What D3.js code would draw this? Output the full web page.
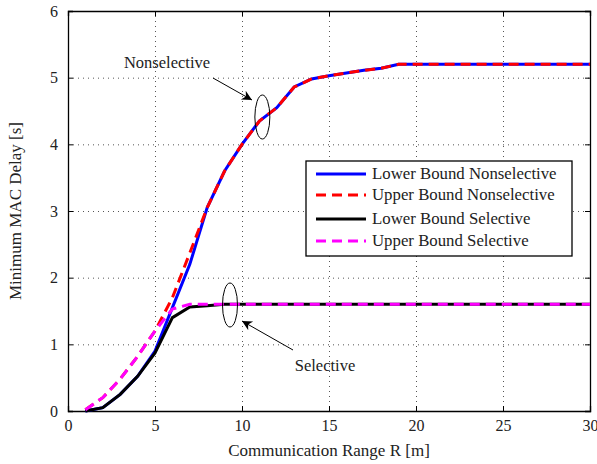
<!DOCTYPE html>
<html lang="en">
<head>
<meta charset="UTF-8">
<title>Minimum MAC Delay</title>
<script src="https://d3js.org/d3.v7.min.js"></script>
<style>
  body { margin: 0; background: #fff; }
  text { font-family: "Liberation Serif", "DejaVu Serif", serif; fill: #222; }
</style>
</head>
<body>
<svg width="597" height="464"></svg>
<script>
// data
const range = [1, 2, 3, 4, 5, 6, 7, 8, 9, 10, 11, 12, 13, 14, 15, 16, 17, 18, 19, 20, 21, 22, 23, 24, 25, 26, 27, 28, 29, 30];
const lowerNonsel = [0, 0.05, 0.25, 0.52, 0.9, 1.55, 2.2, 3.05, 3.6, 4.0, 4.35, 4.55, 4.86, 4.98, 5.03, 5.07, 5.11, 5.14, 5.2, 5.2, 5.2, 5.2, 5.2, 5.2, 5.2, 5.2, 5.2, 5.2, 5.2, 5.2];
const upperNonsel = [0.02, 0.2, 0.48, 0.82, 1.2, 1.7, 2.37, 3.05, 3.6, 4.0, 4.35, 4.55, 4.86, 4.98, 5.03, 5.07, 5.11, 5.14, 5.2, 5.2, 5.2, 5.2, 5.2, 5.2, 5.2, 5.2, 5.2, 5.2, 5.2, 5.2];
const lowerSel = [0, 0.05, 0.25, 0.52, 0.87, 1.4, 1.56, 1.58, 1.6, 1.6, 1.6, 1.6, 1.6, 1.6, 1.6, 1.6, 1.6, 1.6, 1.6, 1.6, 1.6, 1.6, 1.6, 1.6, 1.6, 1.6, 1.6, 1.6, 1.6, 1.6];
const upperSel = [0.02, 0.2, 0.48, 0.82, 1.2, 1.53, 1.6, 1.6, 1.6, 1.6, 1.6, 1.6, 1.6, 1.6, 1.6, 1.6, 1.6, 1.6, 1.6, 1.6, 1.6, 1.6, 1.6, 1.6, 1.6, 1.6, 1.6, 1.6, 1.6, 1.6];
const xTicks = [0, 5, 10, 15, 20, 25, 30];
const yTicks = [0, 1, 2, 3, 4, 5, 6];
const seriesNames = ["Lower Bound Nonselective", "Upper Bound Nonselective", "Lower Bound Selective", "Upper Bound Selective"];

const series = [
  { name: seriesNames[0], values: lowerNonsel, color: "#0000ff", dash: null },
  { name: seriesNames[1], values: upperNonsel, color: "#ff0000", dash: "10,6" },
  { name: seriesNames[2], values: lowerSel, color: "#000000", dash: null },
  { name: seriesNames[3], values: upperSel, color: "#ff00ff", dash: "10,6" }
];

const pLeft = 68, pRight = 590, pTop = 11, pBottom = 411;
const svg = d3.select("svg");

const x = d3.scaleLinear().domain([0, 30]).range([pLeft, pRight]);
const y = d3.scaleLinear().domain([0, 6]).range([pBottom, pTop]);

// grid
const grid = svg.append("g").attr("stroke", "#555").attr("stroke-width", 1).attr("stroke-dasharray", "1,4");
grid.selectAll(".gx").data(xTicks.slice(1, -1)).enter().append("line")
  .attr("x1", d => x(d) + 0.5).attr("x2", d => x(d) + 0.5).attr("y1", pTop).attr("y2", pBottom);
grid.selectAll(".gy").data(yTicks.slice(1, -1)).enter().append("line")
  .attr("y1", d => y(d) + 0.5).attr("y2", d => y(d) + 0.5).attr("x1", pLeft).attr("x2", pRight);

// axes
svg.append("g").attr("transform", `translate(0,${pBottom})`)
  .call(d3.axisBottom(x).tickValues(xTicks).tickFormat(d3.format("d")).tickSize(-5).tickPadding(9));
svg.append("g").attr("transform", `translate(${pLeft},0)`)
  .call(d3.axisLeft(y).tickValues(yTicks).tickFormat(d3.format("d")).tickSize(-5).tickPadding(10));
svg.append("g").attr("transform", `translate(0,${pTop})`)
  .call(d3.axisTop(x).tickValues(xTicks).tickSize(-5).tickFormat(""));
svg.append("g").attr("transform", `translate(${pRight},0)`)
  .call(d3.axisRight(y).tickValues(yTicks).tickSize(-5).tickFormat(""));
svg.selectAll(".domain").attr("stroke", "#000").attr("stroke-width", 1.3);
svg.selectAll(".tick line").attr("stroke", "#000");
svg.selectAll(".tick text").style("font-family", "Liberation Serif, serif").style("font-size", "16px").attr("fill", "#222");

// lines
const line = d3.line().x((d, i) => x(range[i])).y(d => y(d));
series.forEach(s => {
  svg.append("path").datum(s.values)
    .attr("d", line)
    .attr("fill", "none")
    .attr("stroke", s.color)
    .attr("stroke-width", 3)
    .attr("stroke-dasharray", s.dash);
});

// annotations
svg.append("defs").append("marker")
  .attr("id", "arr").attr("viewBox", "0 0 10 10").attr("refX", 10).attr("refY", 5)
  .attr("markerWidth", 14).attr("markerHeight", 10).attr("markerUnits", "userSpaceOnUse").attr("orient", "auto")
  .append("path").attr("d", "M0,0 L10,5 L0,10 L3,5 Z").attr("fill", "#000");

const annots = [
  { label: "Nonselective", ex: 11.17, ey: 4.41, tx: 167, ty: 68, ax1: 213, ay1: 78, ax2: 252, ay2: 100 },
  { label: "Selective", ex: 9.31, ey: 1.59, tx: 325, ty: 371, ax1: 293, ay1: 350, ax2: 242, ay2: 321 }
];
annots.forEach(a => {
  svg.append("ellipse").attr("cx", x(a.ex)).attr("cy", y(a.ey)).attr("rx", 7.5).attr("ry", 22)
    .attr("fill", "none").attr("stroke", "#000").attr("stroke-width", 1);
  svg.append("line").attr("x1", a.ax1).attr("y1", a.ay1).attr("x2", a.ax2).attr("y2", a.ay2)
    .attr("stroke", "#000").attr("stroke-width", 1).attr("marker-end", "url(#arr)");
  svg.append("text").attr("x", a.tx).attr("y", a.ty).attr("text-anchor", "middle")
    .style("font-size", "16.5px").text(a.label);
});

// legend
const lg = svg.append("g");
lg.append("rect").attr("x", 306).attr("y", 161).attr("width", 266).attr("height", 95)
  .attr("fill", "#fff").attr("stroke", "#000").attr("stroke-width", 1.3);
const rowY = [174, 195, 219, 241];
series.forEach((s, i) => {
  lg.append("line").attr("x1", 316).attr("x2", 366).attr("y1", rowY[i]).attr("y2", rowY[i])
    .attr("stroke", s.color).attr("stroke-width", 3).attr("stroke-dasharray", s.dash);
  lg.append("text").attr("x", 372).attr("y", rowY[i] + 5).style("font-size", "16.8px").text(s.name);
});

// axis titles
svg.append("text").attr("x", 329).attr("y", 456).attr("text-anchor", "middle")
  .style("font-size", "17px").text("Communication Range R [m]");
svg.append("text").attr("transform", "translate(21,211) rotate(-90)").attr("text-anchor", "middle")
  .style("font-size", "17px").text("Minimum MAC Delay [s]");
</script>
</body>
</html>
